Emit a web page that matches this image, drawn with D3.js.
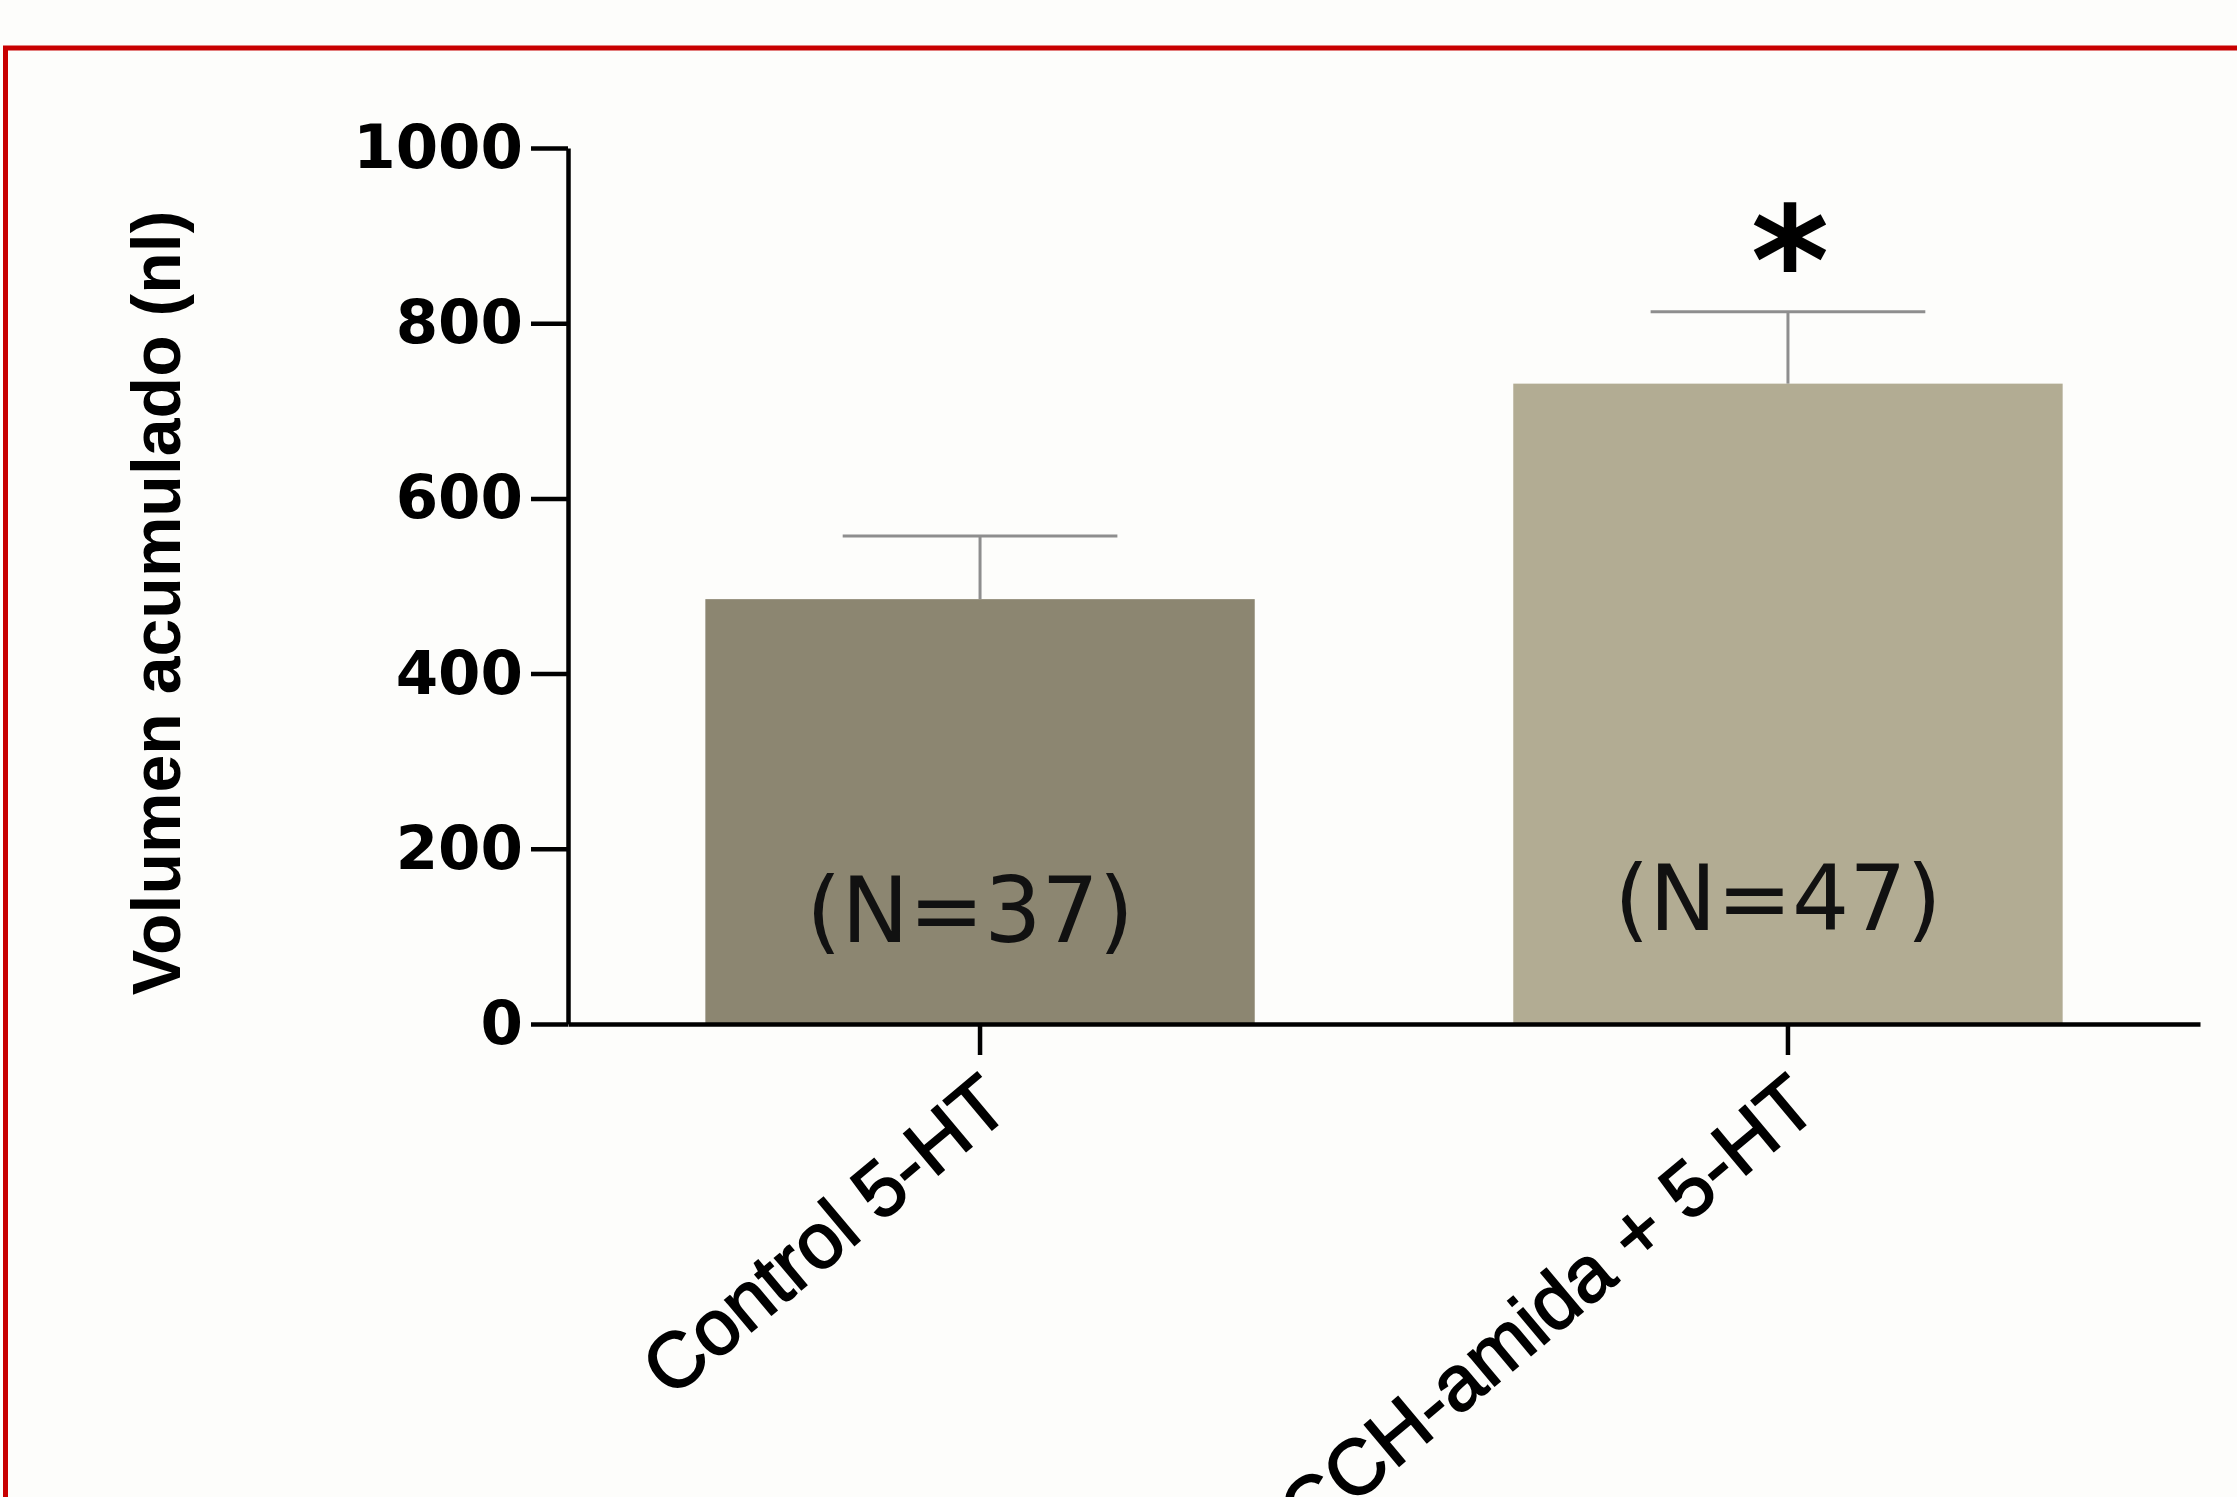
<!DOCTYPE html>
<meta charset="utf-8">
<style>
body { margin: 0; background: #fdfdfb; }
svg { display: block; }
.tick text { font: bold 61px "DejaVu Sans", sans-serif; fill: #000; }
.axis path, .axis line { stroke: #000; stroke-width: 4.5; }
</style>
<svg width="2237" height="1497"></svg>
<script src="https://d3js.org/d3.v7.min.js"></script>
<script>

var categories = ["Control 5-HT", "CCH-amida + 5-HT"],
    means = [485, 731],
    errors = [72, 82],
    nLabels = ["(N=37)", "(N=47)"],
    barColors = ["#8c8671", "#b2ac93"],
    yTicks = [0, 200, 400, 600, 800, 1000];

var svg = d3.select("svg");

// red frame round the figure, runs off right and bottom
svg.append("rect")
    .attr("x", 5.5).attr("y", 48)
    .attr("width", 2400).attr("height", 2000)
    .attr("fill", "none")
    .attr("stroke", "#c80000")
    .attr("stroke-width", 5);

var x = d3.scaleBand()
    .domain(categories)
    .range([568, 2200])
    .paddingInner(0.32)
    .paddingOuter(0.17);

var y = d3.scaleLinear()
    .domain([0, 1000])
    .range([1024, 148]);

// bars
svg.selectAll(".bar")
    .data(categories)
  .enter().append("rect")
    .attr("class", "bar")
    .attr("x", function(d) { return x(d); })
    .attr("y", function(d, i) { return y(means[i]); })
    .attr("width", x.bandwidth())
    .attr("height", function(d, i) { return y(0) - y(means[i]); })
    .attr("fill", function(d, i) { return barColors[i]; });

// error bars (upper only)
var err = svg.selectAll(".err")
    .data(categories)
  .enter().append("g")
    .attr("class", "err")
    .attr("stroke", "#8e8e8e")
    .attr("stroke-width", 3);

err.append("line")
    .attr("x1", function(d) { return x(d) + x.bandwidth() / 2; })
    .attr("x2", function(d) { return x(d) + x.bandwidth() / 2; })
    .attr("y1", function(d, i) { return y(means[i]); })
    .attr("y2", function(d, i) { return y(means[i] + errors[i]); });

err.append("line")
    .attr("x1", function(d) { return x(d) + x.bandwidth() * 0.25; })
    .attr("x2", function(d) { return x(d) + x.bandwidth() * 0.75; })
    .attr("y1", function(d, i) { return y(means[i] + errors[i]); })
    .attr("y2", function(d, i) { return y(means[i] + errors[i]); });

// N labels inside bars
svg.selectAll(".nlab")
    .data(nLabels)
  .enter().append("text")
    .attr("class", "nlab")
    .attr("x", function(d, i) { return x(categories[i]) + x.bandwidth() / 2 - 10; })
    .attr("y", function(d, i) { return y(0) - (i === 0 ? 82 : 94); })
    .attr("text-anchor", "middle")
    .style("font", "90px 'DejaVu Sans', sans-serif")
    .style("fill", "#111")
    .text(function(d) { return d; });

// significance star
svg.append("text")
    .attr("x", x(categories[1]) + x.bandwidth() / 2 + 2)
    .attr("y", y(means[1] + errors[1]) + 2)
    .attr("text-anchor", "middle")
    .style("font", "bold 150px 'DejaVu Sans', sans-serif")
    .text("*");

// axes
svg.append("g")
    .attr("class", "axis")
    .attr("transform", "translate(568,0)")
    .call(d3.axisLeft(y).tickValues(yTicks).tickFormat(d3.format("d"))
      .tickSize(37).tickSizeOuter(0).tickPadding(8));

var xAxis = svg.append("g")
    .attr("class", "axis")
    .attr("transform", "translate(0," + y(0) + ")")
    .call(d3.axisBottom(x).tickSize(31).tickSizeOuter(0));

xAxis.selectAll("text")
    .attr("text-anchor", "end")
    .attr("transform", "translate(33,88) rotate(-40)")
    .attr("y", 0).attr("dy", 0)
    .style("font", "78px 'Liberation Sans', Arial, sans-serif")
    .style("stroke", "#000").style("stroke-width", 1.8);

// y title
svg.append("text")
    .attr("transform", "translate(180,603) rotate(-90)")
    .attr("text-anchor", "middle")
    .style("font", "bold 68px 'Liberation Sans', Arial, sans-serif")
    .text("Volumen acumulado (nl)");

</script>
